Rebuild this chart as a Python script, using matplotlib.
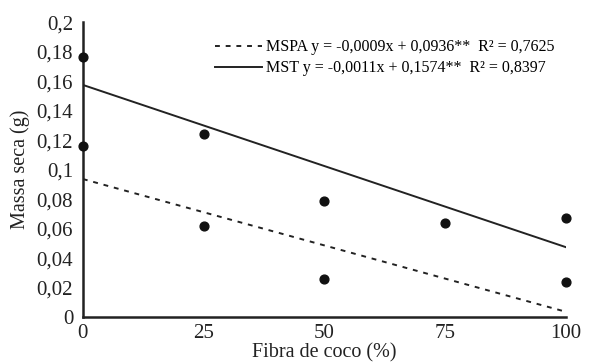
import numpy as np
import matplotlib
matplotlib.use('Agg')
from matplotlib import pyplot as plt

# observed points (Fibra de coco %, massa seca g)
mspa_x = [0, 25, 50, 100]
mspa_y = [0.116, 0.062, 0.026, 0.024]
mst_x = [0, 25, 50, 75, 100]
mst_y = [0.176, 0.124, 0.079, 0.064, 0.067]

# fitted regressions from the legend
mspa_coef = (-0.0009, 0.0936)
mst_coef = (-0.0011, 0.1574)

x_ticks = [0, 25, 50, 75, 100]
y_ticks = [0, 0.02, 0.04, 0.06, 0.08, 0.1, 0.12, 0.14, 0.16, 0.18, 0.2]
y_labels = ['0', '0,02', '0,04', '0,06', '0,08', '0,1', '0,12', '0,14', '0,16', '0,18', '0,2']

plt.rcParams['font.family'] = ['Liberation Serif', 'DejaVu Serif']

fig = plt.figure(figsize=(5.92, 3.62), dpi=100)
ax = fig.add_axes([0.140, 0.124, 0.816, 0.815])

xs = np.array([0, 100])
l1, = ax.plot(xs, mspa_coef[0] * xs + mspa_coef[1], color='#222222', ls=(0, (2.5, 3)), lw=1.4)
l2, = ax.plot(xs, mst_coef[0] * xs + mst_coef[1], color='#222222', lw=1.4)
ax.scatter(mspa_x, mspa_y, s=40, color='#111111', zorder=3, clip_on=False)
ax.scatter(mst_x, mst_y, s=40, color='#111111', zorder=3, clip_on=False)

ax.set_xlim(0, 100)
ax.set_ylim(0, 0.2)
ax.set_xticks(x_ticks)
ax.set_xticklabels([str(t) for t in x_ticks], fontsize=15)
ax.set_yticks(y_ticks)
ax.set_yticklabels(y_labels, fontsize=15)
ax.tick_params(axis='y', length=0, pad=7, colors='#222222')
ax.tick_params(axis='x', length=0, pad=5, colors='#222222')
for s in ('top', 'right'):
    ax.spines[s].set_visible(False)
for s in ('left', 'bottom'):
    ax.spines[s].set_linewidth(1.8)
    ax.spines[s].set_color('#222222')

ax.set_xlabel('Fibra de coco (%)', fontsize=14.5, color='#222222', labelpad=0)
ax.set_ylabel('Massa seca (g)', fontsize=14.5, color='#222222', labelpad=5)

ax.legend([l1, l2],
          ['MSPA y = -0,0009x + 0,0936**  R\u00b2 = 0,7625',
           'MST y = -0,0011x + 0,1574**  R\u00b2 = 0,8397'],
          loc='upper left', bbox_to_anchor=(0.350, 0.913), bbox_transform=fig.transFigure,
          frameon=False, fontsize=11.5, handlelength=2.9, handletextpad=0.3,
          labelspacing=0.3, borderpad=0)

fig.savefig('out.png', dpi=100)
